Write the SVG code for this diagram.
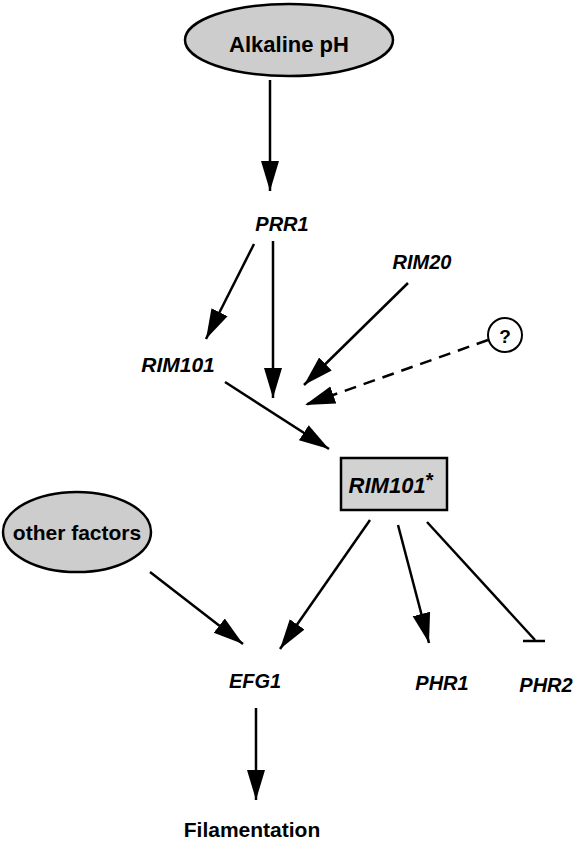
<svg xmlns="http://www.w3.org/2000/svg" width="577" height="841" viewBox="0 0 577 841">
<style>
.lbl{font-family:"Liberation Sans",Arial,sans-serif;font-weight:bold;fill:#000}
.it{font-style:italic}
.edge{stroke:#000;stroke-width:2.5;fill:none}
.shade{fill:#cdcdcd;stroke:#000;stroke-width:2.5}
</style>
<defs>
<marker id="ah" markerUnits="userSpaceOnUse" markerWidth="32" markerHeight="22" viewBox="0 0 32 22" refX="30" refY="11" orient="auto">
<path d="M0,2 L30,11 L0,20 Z" fill="#000"/>
</marker>
</defs>
<g id="connectors">
<line class="edge" x1="270" y1="80" x2="270" y2="191" marker-end="url(#ah)"/>
<line class="edge" x1="254" y1="244" x2="206" y2="339" marker-end="url(#ah)"/>
<line class="edge" x1="273" y1="241" x2="273" y2="398" marker-end="url(#ah)"/>
<line class="edge" x1="408" y1="283" x2="304" y2="385" marker-end="url(#ah)"/>
<line class="edge" x1="488" y1="340" x2="305" y2="405" stroke-dasharray="12,8" marker-end="url(#ah)"/>
<line class="edge" x1="225" y1="382" x2="329" y2="449" marker-end="url(#ah)"/>
<line class="edge" x1="150" y1="572" x2="243" y2="644" marker-end="url(#ah)"/>
<line class="edge" x1="370" y1="520" x2="280" y2="649" marker-end="url(#ah)"/>
<line class="edge" x1="398" y1="525" x2="429" y2="643" marker-end="url(#ah)"/>
<line class="edge" x1="427" y1="522" x2="535" y2="640"/>
<line class="edge" x1="523" y1="641" x2="545" y2="641"/>
<line class="edge" x1="256" y1="708" x2="256" y2="800" marker-end="url(#ah)"/>
</g>
<g id="alkaline">
<ellipse class="shade" cx="289" cy="40" rx="104" ry="36"/>
<text class="lbl" x="289" y="52" font-size="22" text-anchor="middle">Alkaline pH</text>
</g>
<g id="prr1"><text class="lbl it" x="282" y="231" font-size="20" text-anchor="middle">PRR1</text></g>
<g id="rim20"><text class="lbl it" x="422" y="269" font-size="20" text-anchor="middle">RIM20</text></g>
<g id="unknown">
<circle cx="505" cy="335" r="17" fill="#fff" stroke="#000" stroke-width="2"/>
<text class="lbl" x="505" y="343" font-size="19" text-anchor="middle">?</text>
</g>
<g id="rim101"><text class="lbl it" x="178" y="372" font-size="21" text-anchor="middle">RIM101</text></g>
<g id="rim101star">
<rect x="341" y="458" width="106" height="52" fill="#d2d2d2" stroke="#000" stroke-width="2.5"/>
<text class="lbl it" x="391" y="493" font-size="22" text-anchor="middle" font-weight="normal">RIM101<tspan font-size="20" dy="-6" font-style="normal">*</tspan></text>
</g>
<g id="otherfactors">
<ellipse class="shade" cx="77" cy="532" rx="74" ry="40"/>
<text class="lbl" x="77" y="540" font-size="21" text-anchor="middle">other factors</text>
</g>
<g id="efg1"><text class="lbl it" x="255" y="688" font-size="20" text-anchor="middle">EFG1</text></g>
<g id="phr1"><text class="lbl it" x="442" y="690" font-size="20" text-anchor="middle">PHR1</text></g>
<g id="phr2"><text class="lbl it" x="546" y="692" font-size="20" text-anchor="middle">PHR2</text></g>
<g id="filamentation"><text class="lbl" x="252" y="837" font-size="21" text-anchor="middle">Filamentation</text></g>
</svg>
